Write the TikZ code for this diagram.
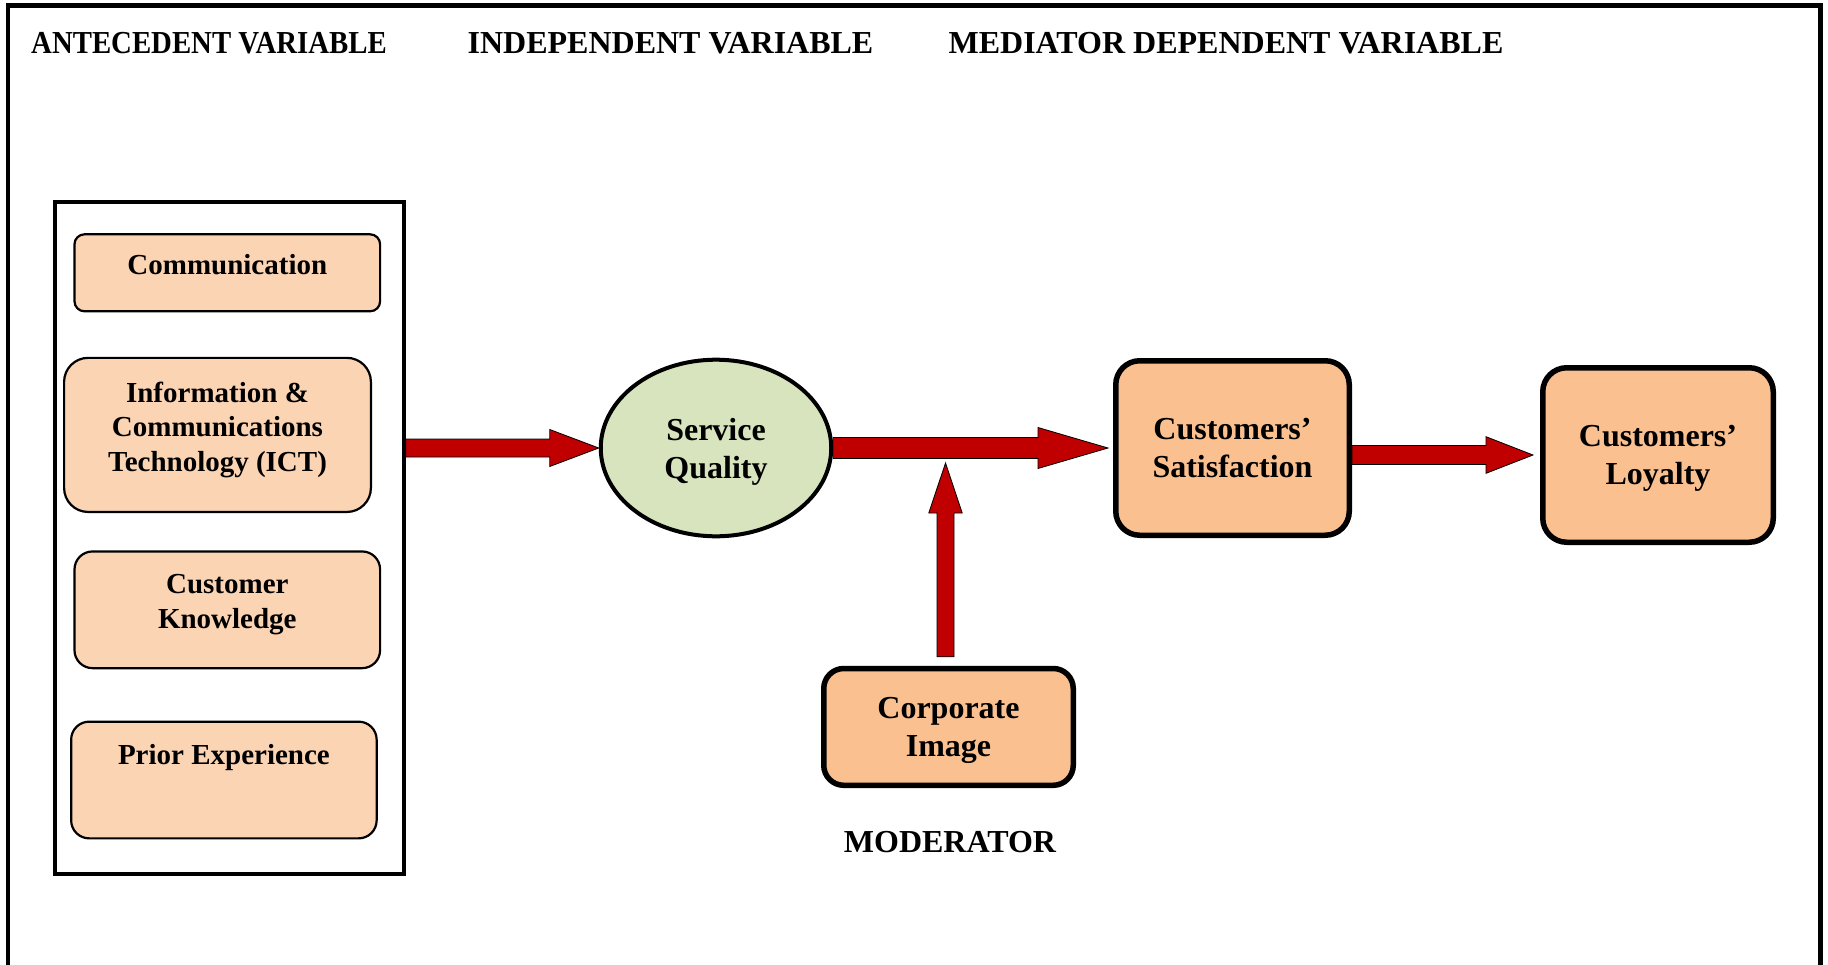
\documentclass[tikz,border=0pt]{standalone}
\usepackage{fontspec}
\setmainfont{Liberation Serif}
\usetikzlibrary{calc,shapes.geometric}
\definecolor{peachL}{HTML}{FBD4B4}
\definecolor{peachD}{HTML}{FAC090}
\definecolor{sqgreen}{HTML}{D7E4BD}
\definecolor{arrowred}{HTML}{C00000}
\newcommand{\harrowdraw}[5]{%
  \draw[blockarrow] let \p1=(#1), \p2=(#2) in
    (\x1,\y1-#3) -- (\x2-#5,\y1-#3) -- (\x2-#5,\y1-#4) -- (\x2,\y1)
    -- (\x2-#5,\y1+#4) -- (\x2-#5,\y1+#3) -- (\x1,\y1+#3) -- cycle;}
\newcommand{\varrowdraw}[5]{%
  \draw[blockarrow] let \p1=(#1), \p2=(#2) in
    (\x1-#3,\y1) -- (\x1-#3,\y2-#5) -- (\x1-#4,\y2-#5) -- (\x1,\y2)
    -- (\x1+#4,\y2-#5) -- (\x1+#3,\y2-#5) -- (\x1+#3,\y1) -- cycle;}
\begin{document}
\begin{tikzpicture}[x=1pt,y=-1pt,
  hdr/.style={font=\fontsize{32}{38}\selectfont\bfseries, inner sep=0pt, anchor=base},
  container/.style={draw, line width=4pt, inner sep=0pt},
  antbox/.style={draw, line width=2.2pt, fill=peachL, align=center, inner sep=0pt,
    font=\fontsize{29}{34.5}\selectfont\bfseries, text depth=17pt},
  mainbox/.style={draw, line width=5.5pt, fill=peachD, align=center, inner sep=0pt,
    rounded corners=24pt, font=\fontsize{32}{38}\selectfont\bfseries, text depth=0pt},
  sqell/.style={draw, ellipse, line width=4pt, fill=sqgreen, align=center, inner sep=0pt,
    font=\fontsize{32}{38}\selectfont\bfseries, text depth=0pt},
  blockarrow/.style={fill=arrowred, draw=black, line width=0.8pt, line join=miter}
]
\useasboundingbox (0,0) rectangle (1828,964);
% outer frame (open at the bottom)
\draw[line width=4.5pt] (8,968) -- (8,5.5) -- (1820.5,5.5) -- (1820.5,968);

% headings
\node[hdr] (hA) at (209,53) {\scalebox{0.9}[1]{ANTECEDENT VARIABLE}};
\node[hdr] (hI) at (670.5,53) {INDEPENDENT VARIABLE};
\node[hdr] (hM) at (1226,53) {MEDIATOR DEPENDENT VARIABLE};

% antecedent container
\node[container, minimum width=349.2pt, minimum height=672.5pt] (ant) at (229.2,537.8) {};
\node[antbox, rounded corners=10pt, minimum width=305.6pt, minimum height=77pt] (comm) at (227.3,272.8) {Communication};
\node[antbox, rounded corners=24pt, minimum width=306.8pt, minimum height=154.1pt] (ict) at (217.5,434.9) {Information \&\\Communications\\Technology (ICT)};
\node[antbox, rounded corners=18pt, minimum width=305.6pt, minimum height=116.7pt] (ck) at (227.3,609.8) {Customer\\Knowledge};
\node[antbox, rounded corners=18pt, minimum width=305.5pt, minimum height=116.7pt] (pe) at (223.9,780) {Prior Experience\\\mbox{}};

% main constructs
\node[sqell, minimum width=230.5pt, minimum height=176.6pt] (sq) at (716,448) {Service\\Quality};
\node[mainbox, minimum width=233.5pt, minimum height=174.5pt] (sat) at (1232.5,448) {Customers’\\Satisfaction};
\node[mainbox, minimum width=230.5pt, minimum height=174.5pt] (loy) at (1658,455) {Customers’\\Loyalty};
\node[mainbox, rounded corners=20pt, minimum width=249.5pt, minimum height=116.8pt] (corp) at (948.5,726.9) {Corporate\\Image};
\node[hdr] (modlbl) at (950,852.7) {MODERATOR};

% connectors
\coordinate (mtip) at (945.5,463);
\harrowdraw{ant.east |- sq.west}{sq.west}{9pt}{18.5pt}{49pt}
\harrowdraw{sq.east}{[xshift=-5pt]sat.west}{10.5pt}{20.5pt}{70pt}
\harrowdraw{sat.east |- loy.west}{[xshift=-7pt]loy.west}{9.5pt}{18.3pt}{47pt}
\varrowdraw{[xshift=-3pt,yshift=9pt]corp.north}{mtip}{8.5pt}{16.7pt}{50pt}
\end{tikzpicture}
\end{document}
